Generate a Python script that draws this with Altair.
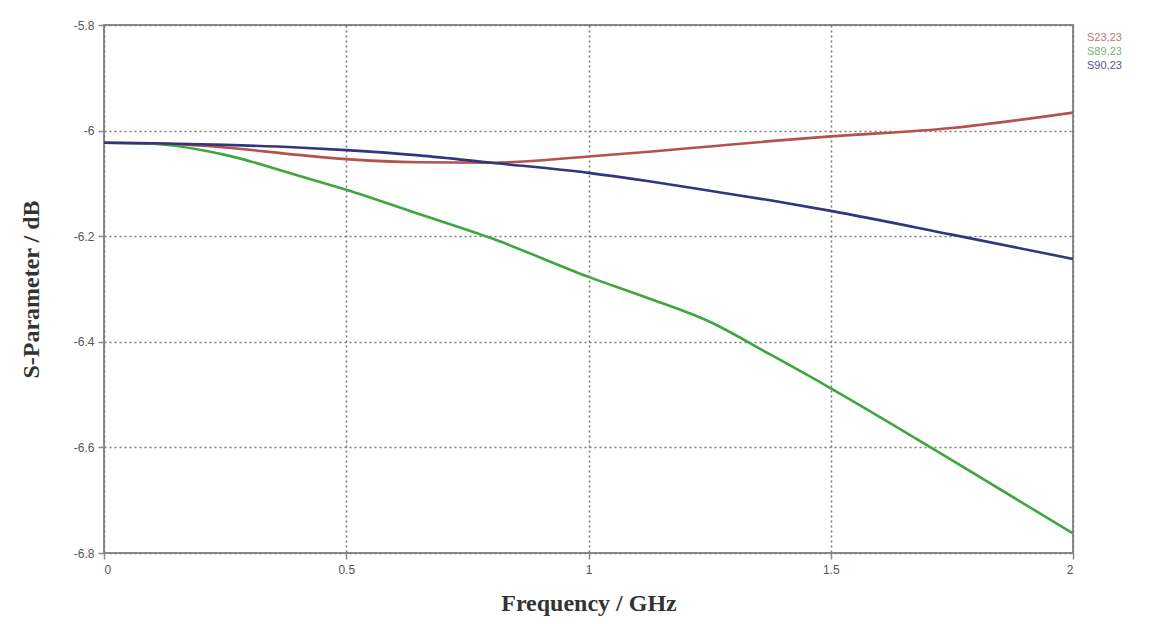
import altair as alt
import pandas as pd

freq = [0.0, 0.1, 0.25, 0.4, 0.5, 0.65, 0.8, 1.0, 1.125, 1.25, 1.375, 1.5, 1.75, 2.0]
s23 = [-6.023, -6.024, -6.032, -6.046, -6.054, -6.060, -6.061, -6.049, -6.040, -6.030, -6.020, -6.011, -5.995, -5.966]
s89 = [-6.023, -6.025, -6.046, -6.085, -6.112, -6.158, -6.204, -6.277, -6.318, -6.362, -6.424, -6.488, -6.624, -6.763]
s90 = [-6.023, -6.024, -6.027, -6.032, -6.037, -6.047, -6.061, -6.080, -6.096, -6.114, -6.132, -6.152, -6.197, -6.243]

series_names = ["S23,23", "S89,23", "S90,23"]
series_colors = ["#b5524c", "#3fa63f", "#34357f"]
legend_colors = ["#c07474", "#74b874", "#555583"]

y_ticks = [-5.8, -6.0, -6.2, -6.4, -6.6, -6.8]
x_ticks = [0, 0.5, 1, 1.5, 2]

rows = []
for name, vals in zip(series_names, [s23, s89, s90]):
    for f, v in zip(freq, vals):
        rows.append({"freq": f, "value": v, "series": name})
df = pd.DataFrame(rows)

x_enc = alt.X(
    "freq:Q",
    scale=alt.Scale(domain=[0, 2], nice=False),
    axis=alt.Axis(
        values=x_ticks,
        title="Frequency / GHz",
        labelExpr="toString(datum.value)",
    ),
)
y_enc = alt.Y(
    "value:Q",
    scale=alt.Scale(domain=[-6.8, -5.8], nice=False, zero=False),
    axis=alt.Axis(
        values=y_ticks,
        title="S-Parameter / dB",
        labelExpr="toString(datum.value)",
    ),
)

lines = alt.Chart(df).mark_line(strokeWidth=2.6, interpolate="monotone").encode(
    x=x_enc,
    y=y_enc,
    color=alt.Color(
        "series:N",
        scale=alt.Scale(domain=series_names, range=series_colors),
        legend=None,
    ),
)

legend_layers = []
for i, (name, col) in enumerate(zip(series_names, legend_colors)):
    legend_layers.append(
        alt.Chart(pd.DataFrame({"label": [name]}))
        .mark_text(align="left", baseline="middle", fontSize=11, font="Liberation Sans", color=col)
        .encode(text="label:N", x=alt.value(983), y=alt.value(13 + 14 * i))
    )

chart = alt.layer(lines, *legend_layers).properties(
    width=969,
    height=528,
    padding={"left": 96, "top": 17, "right": 68, "bottom": 63},
    autosize=alt.AutoSizeParams(type="none"),
    background="white",
).configure_view(
    stroke="#8a8a8a", strokeWidth=2
).configure_axis(
    grid=True,
    gridColor="#7a7a7a",
    gridDash=[2, 3],
    gridWidth=1.6,
    domain=False,
    tickColor="#8a8a8a",
    tickSize=6,
    tickWidth=1.5,
    labelFont="Liberation Sans",
    labelFontSize=12,
    labelColor="#555555",
    titleFont="Liberation Serif",
    titleFontSize=24,
    titleFontWeight="bold",
    titleColor="#333333",
).configure_axisX(
    labelPadding=5, titlePadding=16
).configure_axisY(
    labelPadding=4, titlePadding=30
)

chart.save("out.html", embed_options={"renderer": "svg", "actions": False})
